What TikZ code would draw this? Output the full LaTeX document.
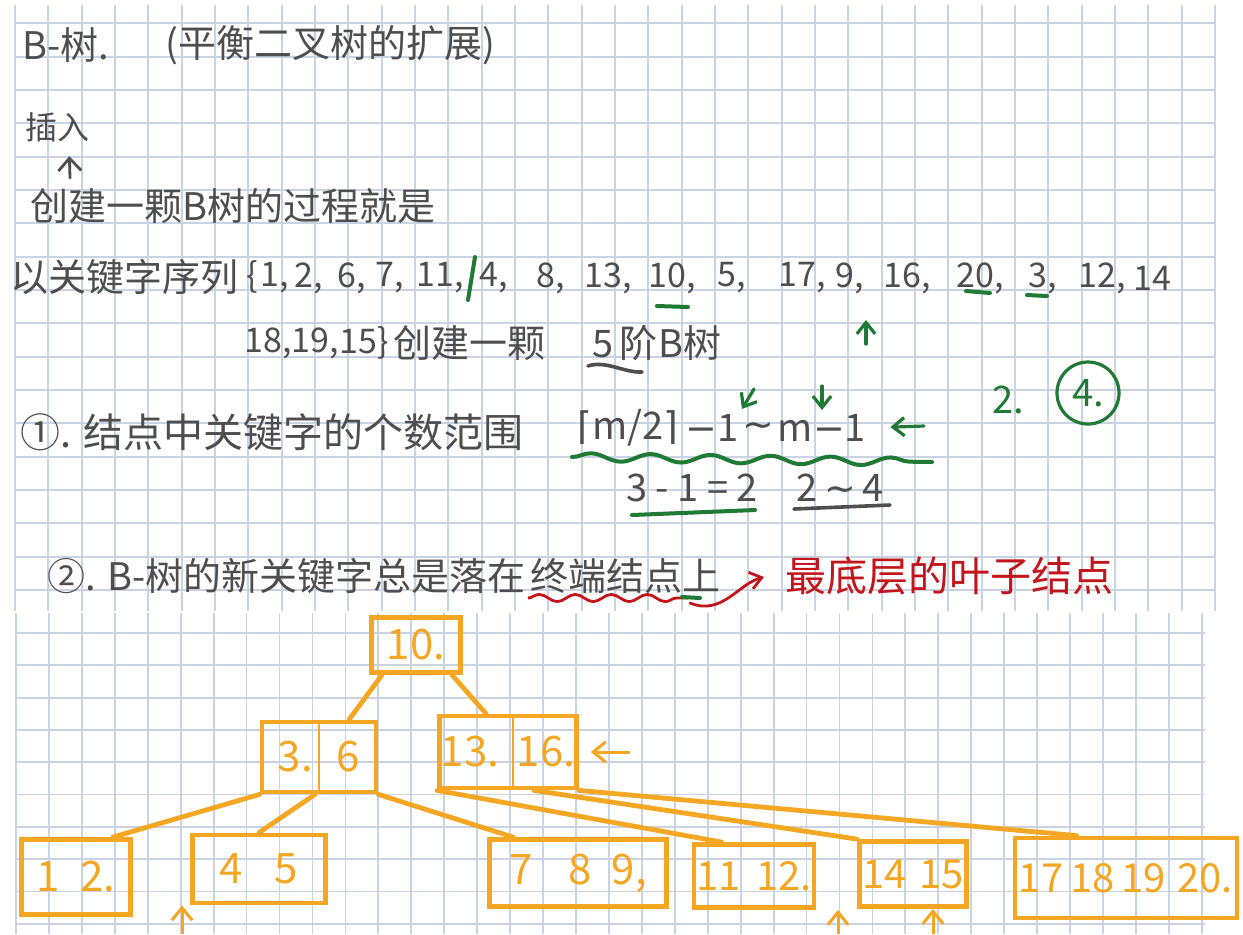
\documentclass[tikz,border=0pt]{standalone}
\usepackage{fontspec}
\setmainfont{Noto Sans CJK SC}
\newfontfamily\symf{DejaVu Sans}
\usetikzlibrary{arrows.meta,decorations.pathmorphing}
\definecolor{inkgray}{HTML}{4E4E4E}
\definecolor{inkgreen}{HTML}{1F7A35}
\definecolor{inkred}{HTML}{C3161C}
\definecolor{inkorange}{HTML}{F5A623}
\definecolor{gridblue}{HTML}{C9D3E3}
\tikzset{
  gridln/.style={draw=gridblue, line width=0.9pt},
  pen/.style={font=\fontsize{19}{22}\selectfont, text=inkgray, inner sep=0pt, anchor=west},
  seq/.style={font=\fontsize{17}{20}\selectfont, text=inkgray, inner sep=0pt},
  fml/.style={font=\fontsize{19}{22}\selectfont, text=inkgray, inner sep=0pt},
  gpen/.style={font=\fontsize{19}{22}\selectfont, text=inkgreen, inner sep=0pt},
  rpen/.style={font=\fontsize{20.5}{24}\selectfont, text=inkred, inner sep=0pt, anchor=west},
  bnode/.style={draw=inkorange, line width=2.4pt, text=inkorange, font=\fontsize{21}{24}\selectfont, inner sep=0pt},
  bdiv/.style={draw=inkorange, line width=1.4pt},
  bedge/.style={draw=inkorange, line width=2.4pt, line cap=round},
  oarr/.style={draw=inkorange, line width=1.5pt, -{Straight Barb[length=2.2mm,width=3.6mm]}},
  garr/.style={draw=inkgreen, line width=1.6pt, line cap=round, -{Straight Barb[length=2mm,width=3.2mm]}},
  parr/.style={draw=inkgray, line width=1.4pt, line cap=round, -{Straight Barb[length=2.2mm,width=4mm]}},
  rarr/.style={draw=inkred, line width=1.4pt, line cap=round, -{Straight Barb[length=2mm,width=3mm]}},
  gline/.style={draw=inkgreen, line width=2pt, line cap=round},
  kline/.style={draw=inkgray, line width=1.8pt, line cap=round},
  gwave/.style={gline, decorate, decoration={snake, segment length=30pt, amplitude=2pt}},
  rwave/.style={draw=inkred, line width=1.4pt, decorate, decoration={snake, segment length=18pt, amplitude=1.8pt}},
}
\begin{document}
\begin{tikzpicture}[x=0.5pt,y=-0.5pt]
  \useasboundingbox (0,0) rectangle (1243,934);
  \fill[white] (0,0) rectangle (1243,934);
  % squared paper, upper and lower sheet
  \foreach \k in {0,...,36}
    \draw[gridln] ({15+33.333*\k},5) -- ({15+33.333*\k},611);
  \foreach \k in {0,...,17}
    \draw[gridln] (15,{23.3+33.333*\k}) -- (1215,{23.3+33.333*\k});
  \foreach \k in {0,...,36}
    \draw[gridln] ({16+32.94*\k},613) -- ({16+32.94*\k},934);
  \foreach \k in {0,...,9}
    \draw[gridln] (16,{633+32.3*\k}) -- (1205,{633+32.3*\k});

  \node[pen] (ttl) at (22,45) {B-树.};
  \node[pen] (ttlx) at (165,45) {(平衡二叉树的扩展)};
  \node[pen, font=\fontsize{16}{18}\selectfont] (ins) at (25,127) {插入};
  \coordinate (insft) at (70,178);
  \draw[parr] (insft) -- ([shift={(6pt,-7pt)}]ins.south);
  \node[pen] (mk) at (30,206) {创建一颗B树的过程就是};

  \node[pen] (seql) at (10,277) {以关键字序列};
  \node[seq] (qb) at (252,277) {\{};
  \node[seq] (q1) at (275,278) {1,};
  \node[seq] (q2) at (309,278) {2,};
  \node[seq] (q3) at (352,278) {6,};
  \node[seq] (q4) at (390,278) {7,};
  \node[seq] (q5) at (440,278) {11,};
  \node[seq] (q6) at (494,278) {4,};
  \node[seq] (q7) at (551,278) {8,};
  \node[seq] (q8) at (608,278) {13,};
  \node[seq] (q9) at (672,278) {10,};
  \node[seq] (q10) at (732,278) {5,};
  \node[seq] (q11) at (802,278) {17,};
  \node[seq] (q12) at (850,278) {9,};
  \node[seq] (q13) at (907,278) {16,};
  \node[seq] (q14) at (980,278) {20,};
  \node[seq] (q15) at (1043,278) {3,};
  \node[seq] (q16) at (1102,278) {12,};
  \node[seq] (q17) at (1152,278) {14};
  \draw[gline] (475,257) -- (468,300);
  \draw[gline] (657,306) -- (688,307);
  \draw[gline] (966,291) -- (990,293);
  \draw[gline] (1027,295) -- (1047,296);
  \coordinate (up9) at (866,344);
  \draw[garr] (up9) -- ([shift={(8pt,-13pt)}]q12.south);

  \node[seq] (q18) at (268,343) {18,};
  \node[seq] (q19) at (315,343) {19,};
  \node[seq] (q20) at (364,343) {15\}};
  \node[pen] (mk2) at (393,343) {创建一颗};
  \node[pen] (ord) at (592,343) {5\,阶};
  \node[pen] (bt) at (658,343) {B树};
  \draw[kline] (588,366) .. controls (605,360) and (625,373) .. (642,372);

  \node[pen, font=\fontsize{20}{24}\selectfont] (cnt) at (20,432) {①. 结点中关键字的个数范围};
  \node[fml] (ceil) at (628,428) {{\symf ⌈}m/2{\symf ⌉}};
  \node[fml] (lo) at (712,428) {{\symf −}1};
  \node[fml] (tl) at (758,430) {{\symf ∼}};
  \node[fml] (hi) at (822,428) {m{\symf −}1};
  \coordinate (ga1) at (754,389);
  \coordinate (ga2) at (822,386);
  \coordinate (ga3) at (924,426);
  \draw[garr, shorten >=3pt] (ga1) -- (lo.north east);
  \draw[garr, shorten >=2pt] (ga2) -- (hi.north);
  \draw[garr, shorten >=12pt] (ga3) -- (hi.east);
  \draw[gwave] (572,457) -- (932,462);
  \node[seq, font=\fontsize{19}{22}\selectfont] (res1) at (692,488) {3 - 1 = 2};
  \node[seq, font=\fontsize{19}{22}\selectfont] (res2) at (840,488) {2\,{\symf ∼}\,4};
  \draw[gline] (632,515) -- (755,510);
  \draw[kline] (794,509) -- (890,505);
  \node[gpen] (two) at (1008,400) {2.};
  \node[gpen, circle, draw=inkgreen, line width=1.6pt, minimum size=31pt] (four) at (1088,393) {4.};

  \node[pen] (nt) at (47,576) {②. B-树的新关键字总是落在};
  \node[pen] (term) at (530,576) {终端结点上};
  \draw[rwave] (528,598) -- (688,598);
  \draw[gline] (682,597) -- (700,598);
  \draw[rarr] (690,603) .. controls (722,616) and (738,584) .. (764,577);
  \node[rpen] (leafw) at (785,576) {最底层的叶子结点};

  \node[bnode, minimum width=44.5pt, minimum height=27.5pt] (root) at (416,645) {10.};
  \node[bnode, minimum width=57pt, minimum height=35pt] (nl) at (319,757) {3.\hspace{12pt}6};
  \node[bnode, minimum width=68.5pt, minimum height=36pt] (nr) at (508,752) {13.\hspace{9pt}16.};
  \draw[bdiv] (nl.north) -- (nl.south);
  \draw[bdiv] ([xshift=2.5pt]nr.north) -- ([xshift=2.5pt]nr.south);
  \node[bnode, minimum width=54.5pt, minimum height=37.5pt] (l1) at (76,877) {1\hspace{10pt}2.};
  \node[bnode, minimum width=66.5pt, minimum height=34pt] (l2) at (259,869) {4\hspace{16pt}5};
  \node[bnode, minimum width=88.5pt, minimum height=33.5pt] (l3) at (578,873) {7\hspace{18pt}8\hspace{10pt}9,};
  \node[bnode, minimum width=60pt, minimum height=31.5pt, font=\fontsize{20}{24}\selectfont] (l4) at (754,876) {11\hspace{8pt}12.};
  \node[bnode, minimum width=53.5pt, minimum height=32.5pt, font=\fontsize{20}{24}\selectfont] (l5) at (913,874) {14\hspace{6pt}15};
  \node[bnode, minimum width=111pt, minimum height=40pt, font=\fontsize{20}{24}\selectfont] (l6) at (1126,878) {17\,18\,19\hspace{6pt}20.};

  \draw[bedge] ([xshift=-17pt]root.south) -- ([xshift=15pt]nl.north);
  \draw[bedge] ([xshift=18pt]root.south) -- ([xshift=-11pt]nr.north);
  \draw[bedge] (nl.south west) -- ([xshift=-10pt]l1.north east);
  \draw[bedge] ([xshift=-2pt]nl.south) -- (l2.north);
  \draw[bedge] (nl.south east) -- ([xshift=13pt]l3.north west);
  \draw[bedge] (nr.south west) -- ([xshift=15pt]l4.north west);
  \draw[bedge] ([xshift=13pt]nr.south) -- (l5.north west);
  \draw[bedge] (nr.south east) -- ([xshift=32pt]l6.north west);
  \coordinate (nrp) at (630,752);
  \draw[oarr, shorten >=6pt] (nrp) -- (nr.east);
  \coordinate (pa) at (182,934);
  \coordinate (pb) at (838,934);
  \coordinate (pc) at (933,934);
  \draw[oarr] (pa) -- (pa |- l2.south);
  \draw[oarr] (pb) -- (pb |- l4.south);
  \draw[oarr] (pc) -- (pc |- l5.south);
\end{tikzpicture}
\end{document}
